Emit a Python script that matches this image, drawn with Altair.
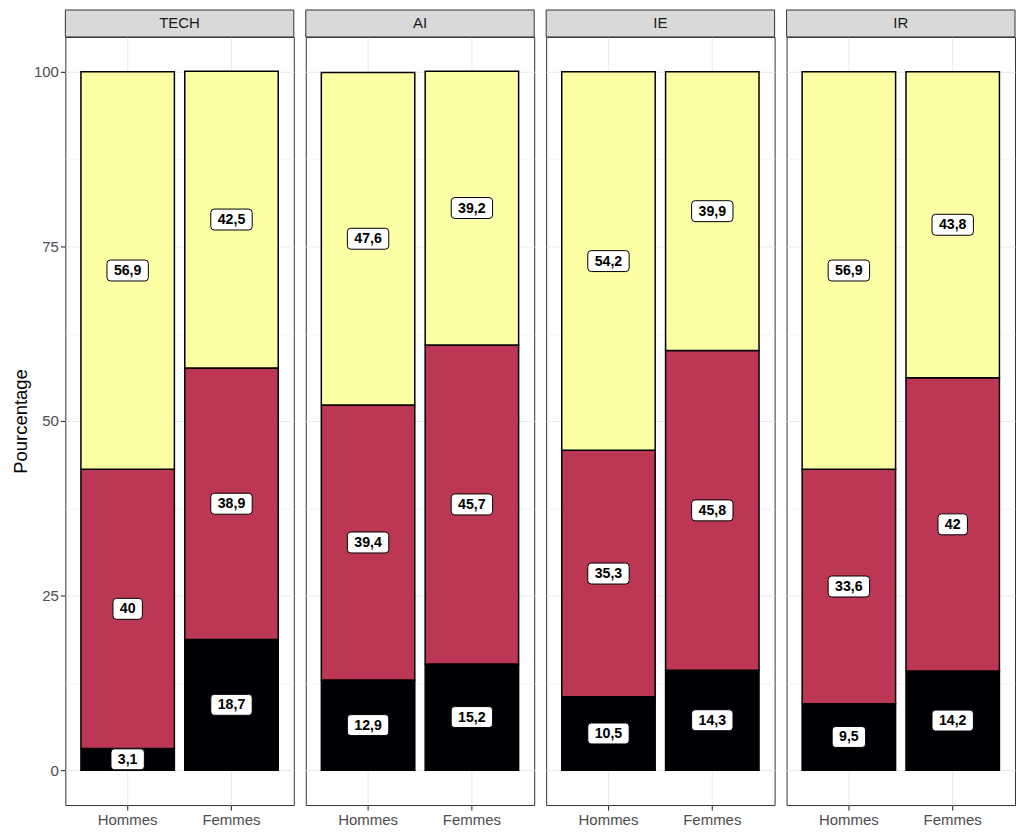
import altair as alt
import pandas as pd

groupes = ["TECH", "AI", "IE", "IR"]
sexes = ["Hommes", "Femmes"]
categories = ["Faible", "Moyen", "Élevé"]  # bottom (black), middle (red), top (yellow)
couleurs = ["#000004", "#BB3754", "#FCFFA4"]

# values per category, ordered TECH-H, TECH-F, AI-H, AI-F, IE-H, IE-F, IR-H, IR-F
val_faible = [3.1, 18.7, 12.9, 15.2, 10.5, 14.3, 9.5, 14.2]
val_moyen = [40, 38.9, 39.4, 45.7, 35.3, 45.8, 33.6, 42]
val_eleve = [56.9, 42.5, 47.6, 39.2, 54.2, 39.9, 56.9, 43.8]

rows = []
series = [val_faible, val_moyen, val_eleve]
for ci, (cat, vals) in enumerate(zip(categories, series)):
    k = 0
    for g in groupes:
        for s in sexes:
            rows.append({"groupe": g, "sexe": s, "categorie": cat, "ordre": ci, "value": vals[k]})
            k += 1
df = pd.DataFrame(rows)

W = 229
H = 770
STRIP = 27
FONT = "Liberation Sans"


def rrect(w, h, r, unit=10.0):
    a = w / 2 / unit
    b = h / 2 / unit
    r = r / unit
    return (f"M{-a + r},{-b} L{a - r},{-b} Q{a},{-b} {a},{-b + r} "
            f"L{a},{b - r} Q{a},{b} {a - r},{b} L{-a + r},{b} "
            f"Q{-a},{b} {-a},{b - r} L{-a},{-b + r} Q{-a},{-b} {-a + r},{-b} Z")


box_shapes = [rrect(29.5, 21, 3.5), rrect(33.5, 21, 3.5), rrect(41.5, 21, 3.5)]

major = "datum.value % 25 === 0"
y_values = [0, 12.5, 25, 37.5, 50, 62.5, 75, 87.5, 100]
y_scale = alt.Scale(domain=[-5, 105], nice=False, zero=False)


def make_panel(g, first):
    x_enc = alt.X(
        "sexe:N", sort=sexes,
        scale=alt.Scale(paddingInner=0.1, paddingOuter=0.15),
        axis=alt.Axis(title=None, labelAngle=0, grid=True, gridColor="#EBEBEB", gridWidth=1.1,
                      bandPosition=0.5, tickColor="#333333", tickSize=5, tickWidth=1.1, domain=False,
                      labelColor="#4D4D4D", labelFontSize=15, labelFont=FONT, labelPadding=3),
    )
    if first:
        y_axis = alt.Axis(
            values=y_values, title="Pourcentage",
            labelExpr=f"{major} ? datum.label : ''",
            gridColor="#EBEBEB",
            gridWidth={"condition": {"test": major, "value": 1.1}, "value": 0.55},
            tickOpacity={"condition": {"test": major, "value": 1}, "value": 0},
            tickColor="#333333", tickSize=5, tickWidth=1.1, domain=False,
            labelColor="#4D4D4D", labelFontSize=15, labelFont=FONT, labelPadding=2,
            titleFontSize=18.5, titleFontWeight="normal", titleColor="black", titleFont=FONT,
            titlePadding=3,
        )
    else:
        y_axis = alt.Axis(
            values=y_values, title=None, labels=False, ticks=False, domain=False,
            gridColor="#EBEBEB",
            gridWidth={"condition": {"test": major, "value": 1.1}, "value": 0.55},
        )

    base = alt.Chart()

    bars = base.mark_bar(stroke="black", strokeWidth=1.5).encode(
        x=x_enc,
        y=alt.Y("y0:Q", scale=y_scale, axis=y_axis),
        y2="y1:Q",
        color=alt.Color("categorie:N", scale=alt.Scale(domain=categories, range=couleurs), legend=None),
    )

    boxes = base.mark_point(filled=True, fill="white", stroke="black", strokeWidth=1,
                            opacity=1, fillOpacity=1, strokeOpacity=1).encode(
        x=alt.X("sexe:N", sort=sexes),
        y=alt.Y("mid:Q"),
        shape=alt.Shape("nchar:N", scale=alt.Scale(domain=[2, 3, 4], range=box_shapes), legend=None),
        size=alt.value(400),
    )

    texts = base.mark_text(font=FONT, fontSize=14.2, fontWeight="bold", color="black",
                           baseline="middle", dy=0.5).encode(
        x=alt.X("sexe:N", sort=sexes),
        y=alt.Y("mid:Q"),
        text="label:N",
    )

    strip = base.mark_rect(fill="#D9D9D9", stroke="#333333", strokeWidth=1).encode(
        x=alt.value(0), x2=alt.value(W), y=alt.value(-STRIP), y2=alt.value(0),
    ).transform_filter("datum.sexe === 'Hommes' && datum.ordre === 0")

    strip_text = base.mark_text(font=FONT, fontSize=15, color="#1A1A1A", baseline="middle").encode(
        x=alt.value(W / 2), y=alt.value(-STRIP / 2), text="groupe:N",
    ).transform_filter("datum.sexe === 'Hommes' && datum.ordre === 0")

    return alt.layer(bars, boxes, texts, strip, strip_text, data=df).transform_filter(
        alt.datum.groupe == g
    ).transform_stack(
        stack="value", groupby=["groupe", "sexe"], as_=["y0", "y1"],
        sort=[alt.SortField("ordre", order="ascending")],
    ).transform_calculate(
        mid="(datum.y0 + datum.y1) / 2",
        label="replace(format(datum.value, ''), '.', ',')",
    ).transform_calculate(
        nchar="length(datum.label)",
    ).properties(width=W, height=H)


panels = [make_panel(g, i == 0) for i, g in enumerate(groupes)]

chart = alt.hconcat(*panels, spacing=10).resolve_scale(
    x="independent", y="independent"
).configure_view(stroke="#333333", strokeWidth=1).properties(
    padding={"left": 2.5, "top": 0, "right": 0, "bottom": 0},
    background="white",
)

chart.save("out.html", embed_options={"renderer": "svg", "actions": False})
